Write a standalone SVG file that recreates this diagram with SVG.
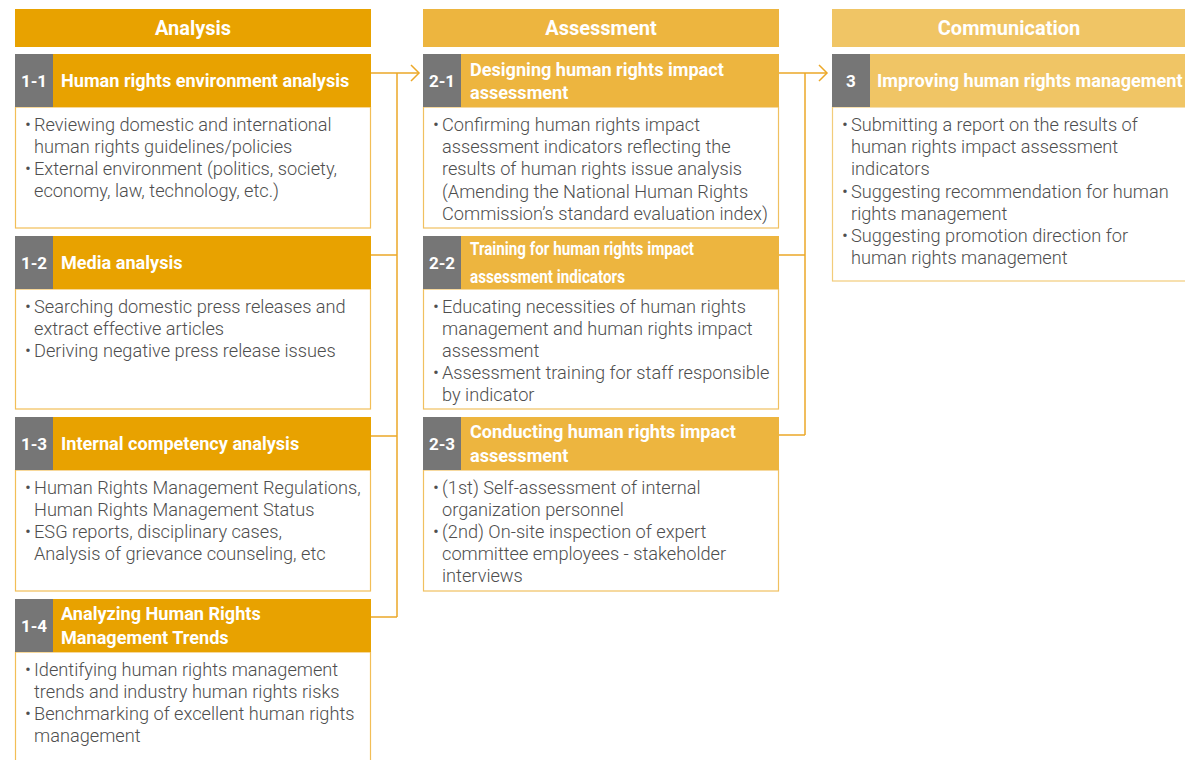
<svg xmlns="http://www.w3.org/2000/svg" width="1185" height="760" viewBox="0 0 1185 760">
  <style>
    .colhead { font-family: Roboto, "Liberation Sans", sans-serif; font-weight: 700; font-size: 20px; fill: #ffffff; text-anchor: middle; }
    .num { font-family: Roboto, "Liberation Sans", sans-serif; font-weight: 700; font-size: 17px; fill: #ffffff; text-anchor: middle; }
    .title { font-family: Roboto, "Liberation Sans", sans-serif; font-weight: 700; font-size: 18.1px; fill: #ffffff; }
    .body { font-family: Roboto, "Liberation Sans", sans-serif; font-weight: 300; font-size: 18.2px; fill: #4e4e4e; }
    .gray { fill: #767676; }
    .c1 { fill: #E8A200; }
    .c2 { fill: #EDB53F; }
    .c3 { fill: #F0C565; }
    .b1 { fill: #ffffff; stroke: #F2BE57; stroke-width: 1.2; }
    .b2 { fill: #ffffff; stroke: #F0C060; stroke-width: 1.2; }
    .b3 { fill: #ffffff; stroke: #F2CC7A; stroke-width: 1.2; }
    .wire { fill: none; stroke: #ECA828; stroke-width: 1.5; }
    .chev { fill: none; stroke: #ECA828; stroke-width: 1.5; }
  </style>

  <!-- column headers -->
  <g id="col-analysis">
    <rect class="c1" x="15" y="9" width="356" height="38"/>
    <text class="colhead" x="193" y="35">Analysis</text>
  </g>
  <g id="col-assessment">
    <rect class="c2" x="423" y="9" width="356" height="38"/>
    <text class="colhead" x="601" y="35">Assessment</text>
  </g>
  <g id="col-communication">
    <rect class="c3" x="832" y="9" width="360" height="38"/>
    <text class="colhead" x="1009" y="35">Communication</text>
  </g>

  <!-- connectors -->
  <g id="connectors">
    <path class="wire" d="M371 73 H419 M371 255 H397 M371 436 H397 M371 617 H397 M397 73 V617"/>
    <path class="chev" d="M411 65 L419 73 L411 81"/>
    <path class="wire" d="M779 73 H827 M779 255 H805 M779 435 H805 M805 73 V435"/>
    <path class="chev" d="M819 65 L827 73 L819 81"/>
  </g>

  <!-- 1-1 -->
  <g id="node-1-1">
    <rect class="b1" x="15.5" y="107" width="355" height="121"/>
    <rect class="c1" x="15" y="54" width="356" height="53"/>
    <rect class="gray" x="15" y="54" width="38" height="53"/>
    <text class="num" x="34" y="87">1-1</text>
    <text class="title" x="61" y="87">Human rights environment analysis</text>
    <text class="body" x="25" y="131">•</text>
    <text class="body" x="34" y="131">Reviewing domestic and international</text>
    <text class="body" x="34" y="153">human rights guidelines/policies</text>
    <text class="body" x="25" y="175">•</text>
    <text class="body" x="34" y="175">External environment (politics, society,</text>
    <text class="body" x="34" y="197">economy, law, technology, etc.)</text>
  </g>

  <!-- 1-2 -->
  <g id="node-1-2">
    <rect class="b1" x="15.5" y="289" width="355" height="120"/>
    <rect class="c1" x="15" y="236" width="356" height="53"/>
    <rect class="gray" x="15" y="236" width="38" height="53"/>
    <text class="num" x="34" y="269">1-2</text>
    <text class="title" x="61" y="269">Media analysis</text>
    <text class="body" x="25" y="313">•</text>
    <text class="body" x="34" y="313">Searching domestic press releases and</text>
    <text class="body" x="34" y="335">extract effective articles</text>
    <text class="body" x="25" y="357">•</text>
    <text class="body" x="34" y="357">Deriving negative press release issues</text>
  </g>

  <!-- 1-3 -->
  <g id="node-1-3">
    <rect class="b1" x="15.5" y="470" width="355" height="121"/>
    <rect class="c1" x="15" y="417" width="356" height="53"/>
    <rect class="gray" x="15" y="417" width="38" height="53"/>
    <text class="num" x="34" y="450">1-3</text>
    <text class="title" x="61" y="450">Internal competency analysis</text>
    <text class="body" x="25" y="494">•</text>
    <text class="body" x="34" y="494">Human Rights Management Regulations,</text>
    <text class="body" x="34" y="516">Human Rights Management Status</text>
    <text class="body" x="25" y="538">•</text>
    <text class="body" x="34" y="538">ESG reports, disciplinary cases,</text>
    <text class="body" x="34" y="560">Analysis of grievance counseling, etc</text>
  </g>

  <!-- 1-4 -->
  <g id="node-1-4">
    <rect class="b1" x="15.5" y="652" width="355" height="120"/>
    <rect class="c1" x="15" y="599" width="356" height="53"/>
    <rect class="gray" x="15" y="599" width="38" height="53"/>
    <text class="num" x="34" y="632">1-4</text>
    <text class="title" x="61" y="620">Analyzing Human Rights</text>
    <text class="title" x="61" y="644">Management Trends</text>
    <text class="body" x="25" y="676">•</text>
    <text class="body" x="34" y="676">Identifying human rights management</text>
    <text class="body" x="34" y="698">trends and industry human rights risks</text>
    <text class="body" x="25" y="720">•</text>
    <text class="body" x="34" y="720">Benchmarking of excellent human rights</text>
    <text class="body" x="34" y="742">management</text>
  </g>

  <!-- 2-1 -->
  <g id="node-2-1">
    <rect class="b2" x="423.5" y="107" width="355" height="121"/>
    <rect class="c2" x="423" y="54" width="356" height="53"/>
    <rect class="gray" x="423" y="54" width="38" height="53"/>
    <text class="num" x="442" y="87">2-1</text>
    <text class="title" x="470" y="76">Designing human rights impact</text>
    <text class="title" x="470" y="99">assessment</text>
    <text class="body" x="433" y="131">•</text>
    <text class="body" x="442" y="131">Confirming human rights impact</text>
    <text class="body" x="442" y="153">assessment indicators reflecting the</text>
    <text class="body" x="442" y="175">results of human rights issue analysis</text>
    <text class="body" x="442" y="198">(Amending the National Human Rights</text>
    <text class="body" x="442" y="220">Commission’s standard evaluation index)</text>
  </g>

  <!-- 2-2 -->
  <g id="node-2-2">
    <rect class="b2" x="423.5" y="289" width="355" height="120"/>
    <rect class="c2" x="423" y="236" width="356" height="53"/>
    <rect class="gray" x="423" y="236" width="38" height="53"/>
    <text class="num" x="442" y="269">2-2</text>
    <text class="title" x="470" y="255" font-size="16" textLength="224" lengthAdjust="spacingAndGlyphs">Training for human rights impact</text>
    <text class="title" x="470" y="283" font-size="16" textLength="155" lengthAdjust="spacingAndGlyphs">assessment indicators</text>
    <text class="body" x="433" y="313">•</text>
    <text class="body" x="442" y="313">Educating necessities of human rights</text>
    <text class="body" x="442" y="335">management and human rights impact</text>
    <text class="body" x="442" y="357">assessment</text>
    <text class="body" x="433" y="379">•</text>
    <text class="body" x="442" y="379">Assessment training for staff responsible</text>
    <text class="body" x="442" y="401">by indicator</text>
  </g>

  <!-- 2-3 -->
  <g id="node-2-3">
    <rect class="b2" x="423.5" y="470" width="355" height="121"/>
    <rect class="c2" x="423" y="417" width="356" height="53"/>
    <rect class="gray" x="423" y="417" width="38" height="53"/>
    <text class="num" x="442" y="450">2-3</text>
    <text class="title" x="470" y="438">Conducting human rights impact</text>
    <text class="title" x="470" y="462">assessment</text>
    <text class="body" x="433" y="494">•</text>
    <text class="body" x="442" y="494">(1st) Self-assessment of internal</text>
    <text class="body" x="442" y="516">organization personnel</text>
    <text class="body" x="433" y="538">•</text>
    <text class="body" x="442" y="538">(2nd) On-site inspection of expert</text>
    <text class="body" x="442" y="560">committee employees - stakeholder</text>
    <text class="body" x="442" y="582">interviews</text>
  </g>

  <!-- 3 -->
  <g id="node-3">
    <rect class="b3" x="832.5" y="107" width="360" height="174"/>
    <rect class="c3" x="832" y="54" width="360" height="53"/>
    <rect class="gray" x="832" y="54" width="38" height="53"/>
    <text class="num" x="851" y="87">3</text>
    <text class="title" x="877" y="87">Improving human rights management</text>
    <text class="body" x="842" y="131">•</text>
    <text class="body" x="851" y="131">Submitting a report on the results of</text>
    <text class="body" x="851" y="153">human rights impact assessment</text>
    <text class="body" x="851" y="175">indicators</text>
    <text class="body" x="842" y="198">•</text>
    <text class="body" x="851" y="198">Suggesting recommendation for human</text>
    <text class="body" x="851" y="220">rights management</text>
    <text class="body" x="842" y="242">•</text>
    <text class="body" x="851" y="242">Suggesting promotion direction for</text>
    <text class="body" x="851" y="264">human rights management</text>
  </g>
</svg>
